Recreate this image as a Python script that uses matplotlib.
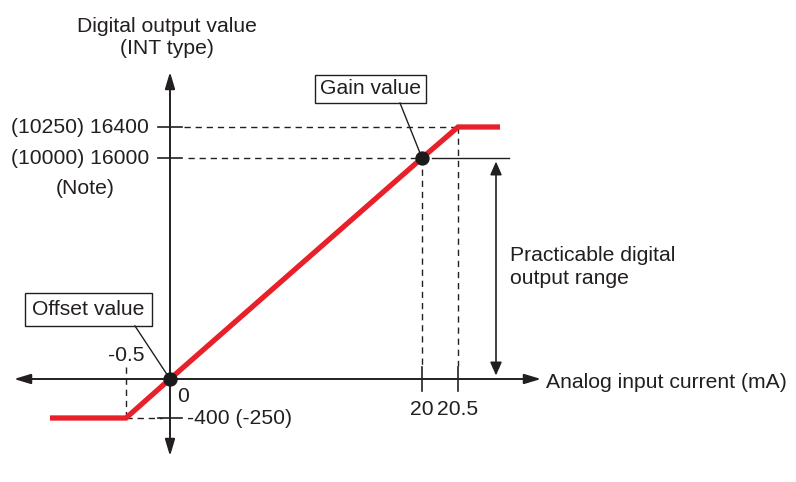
import numpy as np
import matplotlib
matplotlib.use('Agg')
import matplotlib.pyplot as plt

plt.rcParams['font.family'] = ['Liberation Sans', 'DejaVu Sans']

# ---------------- data ----------------
x_current = [-1.5, -0.5, 0, 20, 20.5, 21.5]          # mA (outer ends: schematic extension)
y_digital = [-400, -400, 0, 16000, 16400, 16400]     # digital output value
offset_point = (0, 0)
gain_point = (20, 16000)
x_tick_values = [-0.5, 20, 20.5]
x_tick_labels = ['-0.5', '20', '20.5']
y_tick_values = [16400, 16000, -400]
y_tick_labels = ['(10250) 16400', '(10000) 16000', '-400 (-250)']

# ---------------- layout ----------------
W, H = 796, 482
# schematic (non-proportional) scale: value -> pixel
XK_VAL = [-30, -1.5, -0.5, 0, 20, 20.5, 21.5, 50]
XK_PX = [-2116, 50, 126, 170, 422, 458, 500, 1697]
YK_VAL = [-20000, -400, 0, 16000, 16400, 40000]
YK_PX = [-1847, 64, 103, 324, 355, 2184]   # measured from the bottom


def fx(v):
    return np.interp(v, XK_VAL, XK_PX)


def ix(p):
    return np.interp(p, XK_PX, XK_VAL)


def fy(v):
    return np.interp(v, YK_VAL, YK_PX)


def iy(p):
    return np.interp(p, YK_PX, YK_VAL)


def P(xp, yp):
    """pixel position (from top-left) -> data coordinates"""
    return (float(ix(xp)), float(iy(H - yp)))


def PX(xp):
    return float(ix(xp))


def PY(yp):
    return float(iy(H - yp))


fig = plt.figure(figsize=(W / 100, H / 100), dpi=100)
ax = fig.add_axes([0, 0, 1, 1])
ax.set_xscale('function', functions=(fx, ix))
ax.set_yscale('function', functions=(fy, iy))
ax.set_xlim(PX(0), PX(W))
ax.set_ylim(PY(H), PY(0))
ax.axis('off')

INK = '#231f20'
RED = '#e8202a'
FS = 15.2

# axes with arrows
ax.annotate('', xy=P(14, 379), xytext=P(541, 379),
            arrowprops=dict(arrowstyle='<|-|>,head_length=1.0,head_width=0.3',
                            color=INK, lw=1.4, shrinkA=0, shrinkB=0, mutation_scale=10))
ax.annotate('', xy=(0, PY(456)), xytext=(0, PY(72)),
            arrowprops=dict(arrowstyle='<|-|>,head_length=1.0,head_width=0.3',
                            color=INK, lw=1.4, shrinkA=0, shrinkB=0, mutation_scale=10))

# practicable range arrow
ax.annotate('', xy=(PX(496), 0), xytext=(PX(496), 16000),
            arrowprops=dict(arrowstyle='<|-|>,head_length=0.8,head_width=0.35',
                            color=INK, lw=1.2, shrinkA=2.5, shrinkB=2.5, mutation_scale=10))
ax.plot([PX(432), PX(509)], [16000, 16000], color=INK, lw=1.0)

dash = dict(color=INK, lw=1.0, linestyle=(0, (4.5, 3.5)))
# horizontal guides
ax.plot([PX(184), 20.5], [16400, 16400], **dash)
ax.plot([PX(188), 20], [16000, 16000], **dash)
ax.plot([-0.5, PX(162)], [-400, -400], **dash)
# vertical guides
ax.plot([-0.5, -0.5], [PY(367), -400], **dash)
ax.plot([20, 20], [16000, PY(366)], **dash)
ax.plot([20.5, 20.5], [16400, PY(366)], **dash)

# tick marks
for v in y_tick_values:
    ax.plot([PX(158), PX(182)], [v, v], color=INK, lw=1.2)
for v in x_tick_values[1:]:
    ax.plot([v, v], [PY(367), PY(391)], color=INK, lw=1.2)

# characteristic line
ax.plot(x_current, y_digital, color=RED, lw=3.8, solid_capstyle='butt',
        solid_joinstyle='miter', zorder=3)

# points
for pt in (offset_point, gain_point):
    ax.plot(*pt, 'o', ms=9.3, color='#1a1a1a', zorder=5)

# leader lines
ax.plot([PX(400), gain_point[0]], [PY(103), gain_point[1]], color=INK, lw=1.0, zorder=4)
ax.plot([PX(135), offset_point[0]], [PY(326), offset_point[1]], color=INK, lw=1.0, zorder=4)

ax.text(*P(370.5, 89), 'Gain value', ha='center', va='center', fontsize=FS, color=INK,
        bbox=dict(boxstyle='square,pad=0.22', fc='white', ec=INK, lw=1.0))
ax.text(*P(88.5, 309.5), 'Offset value', ha='center', va='center', fontsize=FS, color=INK,
        bbox=dict(boxstyle='square,pad=0.33', fc='white', ec=INK, lw=1.0))

# tick labels
ax.text(-0.5, PY(355), x_tick_labels[0], ha='center', va='center', fontsize=FS, color=INK)
ax.text(PX(183), PY(396), '0', ha='center', va='center', fontsize=FS, color=INK)
for v, lab in zip(x_tick_values[1:], x_tick_labels[1:]):
    ax.text(v, PY(409), lab, ha='center', va='center', fontsize=FS, color=INK)
for v, lab in zip(y_tick_values[:2], y_tick_labels[:2]):
    ax.text(PX(149), v, lab, ha='right', va='center', fontsize=FS, color=INK)
ax.text(PX(187), y_tick_values[2], y_tick_labels[2], ha='left', va='center', fontsize=FS, color=INK)
ax.text(*P(85, 188), '(Note)', ha='center', va='center', fontsize=FS, color=INK)

# axis titles
ax.text(*P(167, 37), 'Digital output value\n(INT type)', ha='center', va='center',
        fontsize=FS, color=INK, linespacing=1.2)
ax.text(*P(546, 382), 'Analog input current (mA)', ha='left', va='center', fontsize=FS, color=INK)
ax.text(*P(510, 267), 'Practicable digital\noutput range', ha='left', va='center',
        fontsize=FS, color=INK, linespacing=1.25)

fig.savefig('out.png', dpi=100)
